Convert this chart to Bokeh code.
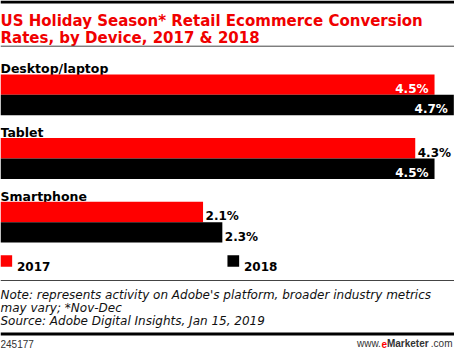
from bokeh.plotting import figure
from bokeh.models import Range1d, Label, Span
from bokeh.core.properties import value
from bokeh.embed import file_html
from bokeh.resources import INLINE

# ---- data ----
devices = ["Desktop/laptop", "Tablet", "Smartphone"]
years = ["2017", "2018"]
values_2017 = [4.5, 4.3, 2.1]
values_2018 = [4.7, 4.5, 2.3]
colors = ["#ff0000", "#000000"]

title_lines = ["US Holiday Season* Retail Ecommerce Conversion",
               "Rates, by Device, 2017 & 2018"]
note_lines = ["Note: represents activity on Adobe's platform, broader industry metrics",
              "may vary; *Nov-Dec",
              "Source: Adobe Digital Insights, Jan 15, 2019"]
chart_id = "245177"

W, H = 454, 348
FONT = "DejaVu Sans"

p = figure(width=W, height=H, output_backend="svg", toolbar_location=None,
           x_range=Range1d(0, 4.707), y_range=Range1d(H, 0),
           x_axis_location=None, y_axis_location=None, min_border=0,
           outline_line_color=None, background_fill_color="white",
           border_fill_color="white")
p.grid.visible = False

# layout (pixel units along y since y_range is in pixels, top=0)
group_top0 = 73.9
group_step = 63.7
bar_h = 20.4

for i, dev in enumerate(devices):
    top = group_top0 + i * group_step
    p.text(x=[0], y=[top - 5.8], text=[dev], text_font=value(FONT),
           text_font_style="bold", text_font_size="12.5px", text_color="#000000",
           text_baseline="alphabetic", text_align="left")

for j, (vals, col) in enumerate([(values_2017, colors[0]), (values_2018, colors[1])]):
    ys = [group_top0 + i * group_step + bar_h * (j + 0.5) for i in range(len(devices))]
    p.hbar(y=ys, left=0, right=vals, height=bar_h, fill_color=col, line_color=None)
    for v, yc in zip(vals, ys):
        inside = v >= 4.4
        p.text(x=[v], y=[yc + 4.4], text=[f"{v:.1f}%"], text_font=value(FONT),
               text_font_style="bold", text_font_size="12px",
               text_color="white" if inside else "#000000",
               text_align="right" if inside else "left",
               x_offset=-6 if inside else 2.5, text_baseline="alphabetic")

# legend
legend_x = [0, 227]
for k, yr in enumerate(years):
    p.rect(x=[(legend_x[k] + 5.8) / 96.45], y=[260.5], width=11.7, height=11.7,
           width_units="screen", height_units="screen",
           fill_color=colors[k], line_color=None)
    p.add_layout(Label(x=legend_x[k] + 16.5, y=266.3, x_units="screen", text=yr,
                       text_font=FONT, text_font_style="bold", text_font_size="12px",
                       text_color="#000000", text_baseline="alphabetic"))

# title
for t, yb in zip(title_lines, [20.6, 37.2]):
    p.add_layout(Label(x=0, y=yb, x_units="screen", text=t, text_font=FONT,
                       text_font_style="bold", text_font_size="15px",
                       text_color="#f00000", text_baseline="alphabetic"))

# rules
p.add_layout(Span(location=1.5, dimension="width", line_color="#000000", line_width=3))
p.add_layout(Span(location=45.7, dimension="width", line_color="#444444", line_width=1))
p.add_layout(Span(location=280, dimension="width", line_color="#444444", line_width=1))
p.add_layout(Span(location=333.5, dimension="width", line_color="#000000", line_width=3))

# notes
for t, yb in zip(note_lines, [294, 307, 320]):
    p.add_layout(Label(x=0, y=yb, x_units="screen", text=t, text_font=FONT,
                       text_font_style="italic", text_font_size="12px",
                       text_color="#111111", text_baseline="alphabetic"))

# footer
FY = 343
fs = 10
p.add_layout(Label(x=0, y=FY, x_units="screen", text=chart_id, text_font="Liberation Sans",
                   text_font_size=f"{fs}px", text_color="#333333", text_baseline="alphabetic"))
parts = [("www.", "normal", "#333333", 3 * 0.722 + 0.278),
         ("e", "bold", "#ff0000", 0.556),
         ("Marketer", "bold", "#333333", 4.389),
         (".com", "normal", "#333333", 0.278 + 0.5 + 0.556 + 0.833)]
total = sum(w for *_, w in parts)
xcur = 452 - total * fs
for t, st, c, w in parts:
    p.add_layout(Label(x=xcur, y=FY, x_units="screen", text=t, text_font="Liberation Sans",
                       text_font_style=st, text_font_size=f"{fs}px", text_color=c,
                       text_baseline="alphabetic"))
    xcur += w * fs

open("out.html", "w").write(file_html(p, INLINE))
